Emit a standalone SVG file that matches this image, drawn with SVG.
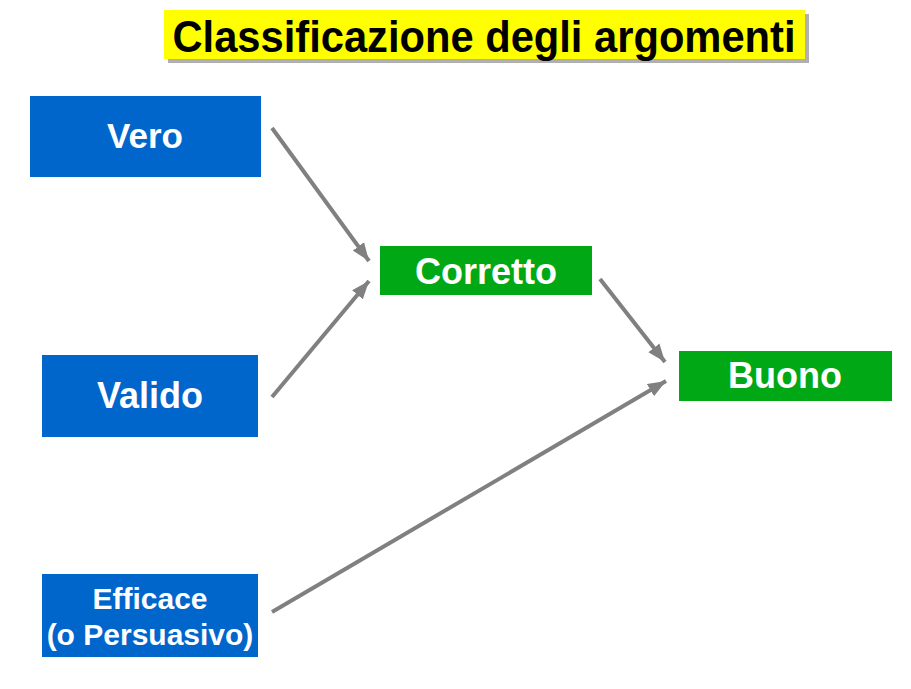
<svg xmlns="http://www.w3.org/2000/svg" width="911" height="689" viewBox="0 0 911 689">
<style>
.t{font-family:"Liberation Sans",Arial,sans-serif;font-weight:bold;text-anchor:middle}
.w{fill:#ffffff}
.blue{fill:#0066cc}
.green{fill:#00a816}
.c{stroke:#808080;stroke-width:4;fill:none}
</style>
<defs>
<marker id="ah" markerUnits="userSpaceOnUse" markerWidth="20" markerHeight="16" refX="18" refY="8" orient="auto">
<path d="M0,1 L18,8 L0,15 Z" fill="#808080"/>
</marker>
</defs>
<rect width="911" height="689" fill="#ffffff"/>
<g id="title">
<rect x="168" y="14" width="641" height="49" fill="#b0b0b0"/>
<rect x="164" y="10" width="641" height="49" fill="#ffff00"/>
<text class="t" x="484" y="52" font-size="44" fill="#000" textLength="623" lengthAdjust="spacingAndGlyphs">Classificazione degli argomenti</text>
</g>
<g id="connectors">
<line class="c" x1="272" y1="128" x2="369" y2="261" marker-end="url(#ah)"/>
<line class="c" x1="272" y1="397" x2="369" y2="281" marker-end="url(#ah)"/>
<line class="c" x1="600" y1="279" x2="665" y2="362" marker-end="url(#ah)"/>
<line class="c" x1="272" y1="612" x2="666" y2="381" marker-end="url(#ah)"/>
</g>
<g id="vero">
<rect class="blue" x="30" y="96" width="231" height="81"/>
<text class="t w" x="145" y="148" font-size="35">Vero</text>
</g>
<g id="valido">
<rect class="blue" x="42" y="355" width="216" height="82"/>
<text class="t w" x="150" y="408" font-size="36">Valido</text>
</g>
<g id="efficace">
<rect class="blue" x="42" y="574" width="216" height="83"/>
<text class="t w" x="150" y="609" font-size="30">Efficace</text>
<text class="t w" x="150" y="645" font-size="30">(o Persuasivo)</text>
</g>
<g id="corretto">
<rect class="green" x="380" y="246" width="212" height="49"/>
<text class="t w" x="486" y="284" font-size="36">Corretto</text>
</g>
<g id="buono">
<rect class="green" x="679" y="351" width="213" height="50"/>
<text class="t w" x="785" y="388" font-size="36">Buono</text>
</g>
</svg>
